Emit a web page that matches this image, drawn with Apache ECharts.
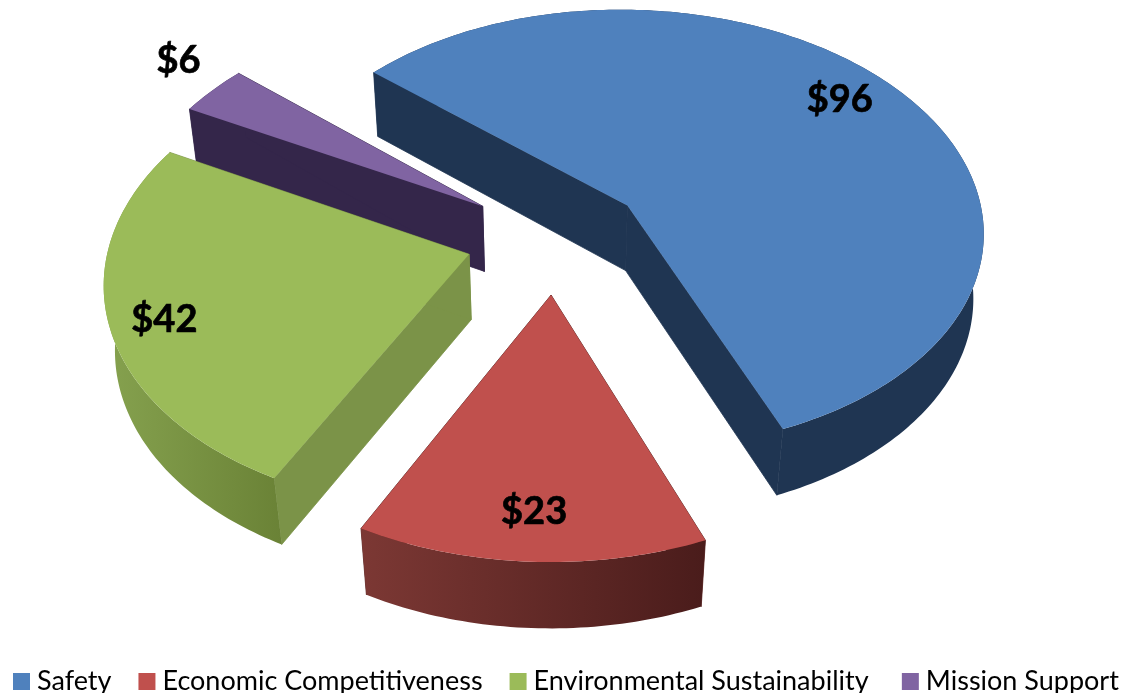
<!DOCTYPE html>
<html><head><meta charset="utf-8">
<style>html,body{margin:0;padding:0;background:#fff}#c{width:1124px;height:693px}</style>
<script src="https://cdn.jsdelivr.net/npm/echarts@6/dist/echarts.min.js"></script>
</head><body><div id="c"></div>
<script>
var categories = ['Safety', 'Economic Competitiveness', 'Environmental Sustainability', 'Mission Support'];
var values = [96, 23, 42, 6];
var topColors = ['#4F81BD', '#C0504D', '#9BBB59', '#8064A2'];
var cutColors = ['#1F3552', '#5A2422', '#7B9348', '#34264A'];
var wallLeft = ['#1F3552', '#7C3834', '#86A24F', '#34264A'];
var wallRight = ['#1F3552', '#4A1C1B', '#6A8236', '#34264A'];
var labelTexts = ['$96', '$23', '$42', '$6'];
var labelRadii = [0.825, 0.83, 0.855, 1.19];
var labelAngles = [51.5, 182.8, 251, 307.5];
var drawOrder = [3, 0, 2, 1];

var view = {x0: 555.5, y0: 237.5, a: 359, b: 224, k: 0.11, m: 0.025, h: 67, explode: 0.25, start: -49};
var total = values.reduce(function (s, v) { return s + v; }, 0);
var RAD = Math.PI / 180;

function project(u, v, z) {
  var w = 1 - view.k * v + view.m * z;
  return [view.x0 + view.a * u / w, view.y0 + (view.b * v + view.h * z) / w];
}
function sliceAngles(i) {
  var s = view.start;
  for (var j = 0; j < i; j++) s += values[j] / total * 360;
  return [s, s + values[i] / total * 360];
}
function renderSlice(i) {
  return function () {
    var ang = sliceAngles(i), mid = (ang[0] + ang[1]) / 2;
    var cu = view.explode * Math.sin(mid * RAD), cv = -view.explode * Math.cos(mid * RAD);
    var rim = [];
    var steps = Math.max(8, Math.round(ang[1] - ang[0]));
    for (var t = 0; t <= steps; t++) {
      var th = (ang[0] + (ang[1] - ang[0]) * t / steps) * RAD;
      rim.push([cu + Math.sin(th), cv - Math.cos(th)]);
    }
    var top = rim.map(function (p) { return project(p[0], p[1], 0); });
    var bottom = rim.map(function (p) { return project(p[0], p[1], 1); }).reverse();
    var apexT = project(cu, cv, 0), apexB = project(cu, cv, 1);
    var first = rim[0], last = rim[rim.length - 1];
    var a0 = project(first[0], first[1], 0), a1 = project(first[0], first[1], 1);
    var b0 = project(last[0], last[1], 0), b1 = project(last[0], last[1], 1);
    var la = labelAngles[i] * RAD, lr = labelRadii[i];
    var lp = project(cu + lr * Math.sin(la), cv - lr * Math.cos(la), 0);
    var cut = cutColors[i];
    var children = [
      {type: 'polygon', shape: {points: [apexT, a0, a1, apexB]}, style: {fill: cut, stroke: cut, lineWidth: 0.8}},
      {type: 'polygon', shape: {points: [apexT, b0, b1, apexB]}, style: {fill: cut, stroke: cut, lineWidth: 0.8}},
      {type: 'polygon', shape: {points: top.concat(bottom)}, style: {
        fill: {type: 'linear', x: 0, y: 0, x2: 1, y2: 0, colorStops: [{offset: 0, color: wallLeft[i]}, {offset: 1, color: wallRight[i]}]}
      }},
      {type: 'polygon', shape: {points: [apexT].concat(top)}, style: {fill: topColors[i]}},
      {type: 'text', style: {x: lp[0], y: lp[1], text: labelTexts[i], align: 'center', verticalAlign: 'middle',
        fill: '#000', stroke: '#000', lineWidth: 0.7, font: 'bold 38px Lato, "Open Sans", sans-serif'}}
    ];
    return {type: 'group', children: children};
  };
}
var series = drawOrder.map(function (i, order) {
  return {
    type: 'custom', name: categories[i], coordinateSystem: 'none', silent: true, z: 2 + order,
    itemStyle: {color: topColors[i]},
    data: [{name: categories[i], value: values[i]}],
    renderItem: renderSlice(i)
  };
});
var chart = echarts.init(document.getElementById('c'), null, {renderer: 'canvas'});
chart.setOption({
  animation: false,
  backgroundColor: '#fff',
  legend: {
    data: categories,
    left: 13, top: 668, padding: 0, itemGap: 27, itemWidth: 17, itemHeight: 17, icon: 'rect',
    selectedMode: false,
    formatter: function (name) { return name === categories[2] ? name + '\u00a0' : name; },
    textStyle: {color: '#000', fontSize: 27, fontFamily: 'Lato, "Open Sans", sans-serif', padding: [0, 0, 0, 2]}
  },
  series: series
});
</script></body></html>
